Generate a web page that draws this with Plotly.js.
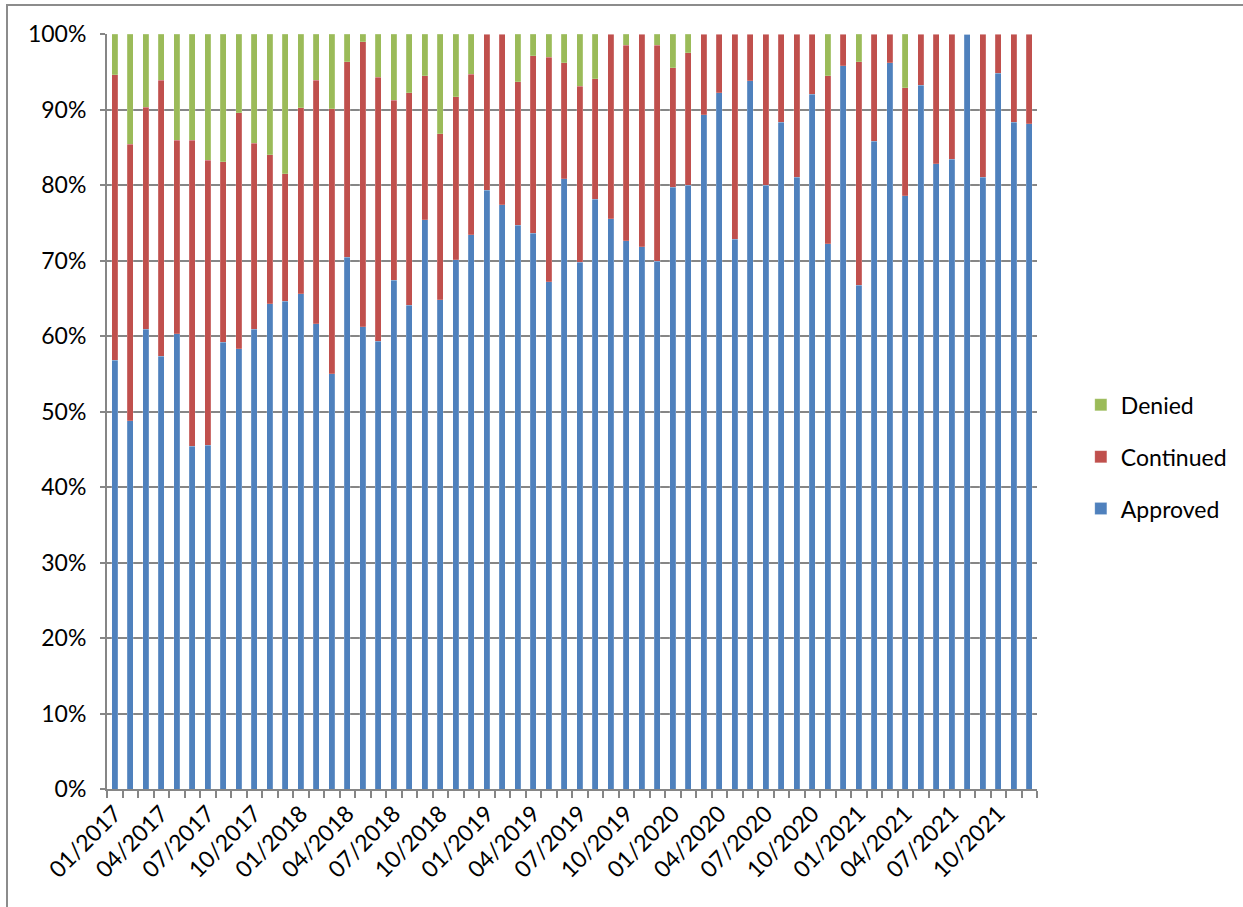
<!DOCTYPE html>
<html>
<head>
<meta charset="utf-8">
<script src="https://cdn.plot.ly/plotly-3.0.1.min.js"></script>
<style>
  html, body { margin: 0; padding: 0; background: #fff; }
  #frame { position: absolute; left: 6px; top: 4px; width: 1300px; height: 1000px;
           border-left: 2px solid #8c8c8c; border-top: 2px solid #8c8c8c; box-sizing: border-box; }
  #chart { position: absolute; left: 0; top: 0; width: 1243px; height: 907px; }
</style>
</head>
<body>
<div id="frame"></div>
<div id="chart"></div>
<script>
const months = [
  "01/2017","02/2017","03/2017","04/2017","05/2017","06/2017","07/2017","08/2017","09/2017","10/2017","11/2017","12/2017",
  "01/2018","02/2018","03/2018","04/2018","05/2018","06/2018","07/2018","08/2018","09/2018","10/2018","11/2018","12/2018",
  "01/2019","02/2019","03/2019","04/2019","05/2019","06/2019","07/2019","08/2019","09/2019","10/2019","11/2019","12/2019",
  "01/2020","02/2020","03/2020","04/2020","05/2020","06/2020","07/2020","08/2020","09/2020","10/2020","11/2020","12/2020",
  "01/2021","02/2021","03/2021","04/2021","05/2021","06/2021","07/2021","08/2021","09/2021","10/2021","11/2021","12/2021"
];

const approved = [
  56.8, 48.8, 60.9, 57.3, 60.3, 45.4, 45.5, 59.2, 58.3, 60.9, 64.3, 64.6,
  65.6, 61.6, 55.0, 70.4, 61.2, 59.3, 67.4, 64.1, 75.4, 64.8, 70.1, 73.4,
  79.3, 77.4, 74.7, 73.6, 67.2, 80.8, 69.8, 78.1, 75.5, 72.6, 71.8, 69.9,
  79.7, 80.0, 89.3, 92.2, 72.8, 93.8, 80.0, 88.3, 81.0, 92.0, 72.2, 95.8,
  66.7, 85.8, 96.2, 78.6, 93.2, 82.8, 83.4, 100.0, 81.0, 94.8, 88.3, 88.1
];

const continued = [
  37.8, 36.6, 29.4, 36.6, 25.6, 40.5, 37.8, 23.9, 31.3, 24.6, 19.7, 16.9,
  24.6, 32.3, 35.1, 25.9, 37.8, 35.0, 23.8, 28.1, 19.1, 22.0, 21.6, 21.3,
  20.7, 22.6, 19.0, 23.5, 29.7, 15.4, 23.3, 16.0, 24.5, 25.9, 28.2, 28.6,
  15.8, 17.5, 10.7, 7.8, 27.2, 6.2, 20.0, 11.7, 19.0, 8.0, 22.3, 4.2,
  29.6, 14.2, 3.8, 14.3, 6.8, 17.2, 16.6, 0.0, 19.0, 5.2, 11.7, 11.9
];

const denied = [
  5.4, 14.6, 9.7, 6.1, 14.1, 14.1, 16.7, 16.9, 10.4, 14.5, 16.0, 18.5,
  9.8, 6.1, 9.9, 3.7, 1.0, 5.7, 8.8, 7.8, 5.5, 13.2, 8.3, 5.3,
  0.0, 0.0, 6.3, 2.9, 3.1, 3.8, 6.9, 5.9, 0.0, 1.5, 0.0, 1.5,
  4.5, 2.5, 0.0, 0.0, 0.0, 0.0, 0.0, 0.0, 0.0, 0.0, 5.5, 0.0,
  3.7, 0.0, 0.0, 7.1, 0.0, 0.0, 0.0, 0.0, 0.0, 0.0, 0.0, 0.0
];

const yTickVals = [0, 10, 20, 30, 40, 50, 60, 70, 80, 90, 100];
const yTickText = ["0%","10%","20%","30%","40%","50%","60%","70%","80%","90%","100%"];
// label every third month
const xTickText = months.map((m, i) => (i % 3 === 0 ? m : ""));

const FONT = "Lato, 'Open Sans', sans-serif";

const traces = [
  { name: "Approved", x: months, y: approved, type: "bar",
    marker: { color: "#4F81BD", line: { color: "rgba(255,255,255,0.35)", width: 0.5 } },
    legendgroup: "a", legendrank: 3, hoverinfo: "x+y+name" },
  { name: "Continued", x: months, y: continued, type: "bar",
    marker: { color: "#C0504D", line: { color: "rgba(255,255,255,0.35)", width: 0.5 } },
    legendgroup: "c", legendrank: 2, hoverinfo: "x+y+name" },
  { name: "Denied", x: months, y: denied, type: "bar",
    marker: { color: "#9BBB59", line: { color: "rgba(255,255,255,0.35)", width: 0.5 } },
    legendgroup: "d", legendrank: 1, hoverinfo: "x+y+name" }
];

const layout = {
  width: 1243, height: 907,
  margin: { l: 107, r: 205, t: 34, b: 118, pad: 0 },
  paper_bgcolor: "rgba(0,0,0,0)",
  plot_bgcolor: "rgba(0,0,0,0)",
  barmode: "stack",
  bargap: 0.59,
  font: { family: FONT, size: 22, color: "#000" },
  showlegend: true,
  legend: {
    x: 1.046, xanchor: "left", y: 0.44, yanchor: "middle",
    traceorder: "grouped", tracegroupgap: 19,
    font: { family: FONT, size: 23, color: "#000" },
    bgcolor: "rgba(0,0,0,0)"
  },
  xaxis: {
    type: "category",
    tickmode: "array", tickvals: months, ticktext: xTickText,
    tickangle: -45,
    tickson: "boundaries",
    ticks: "outside", ticklen: 7, tickcolor: "#868686", tickwidth: 2,
    showline: true, linecolor: "#868686", linewidth: 2,
    showgrid: false,
    tickfont: { family: FONT, size: 23, color: "#000" },
    range: [-0.5, 59.5]
  },
  yaxis: {
    range: [0, 100],
    tickmode: "array", tickvals: yTickVals, ticktext: yTickText,
    ticks: "outside", ticklen: 5, tickcolor: "#868686", tickwidth: 2,
    showline: true, linecolor: "#868686", linewidth: 2,
    showgrid: true, gridcolor: "#868686", gridwidth: 2,
    zeroline: false,
    tickfont: { family: FONT, size: 23, color: "#000" },
    ticklabelstandoff: 9
  }
};

Plotly.newPlot("chart", traces, layout, { displayModeBar: false, staticPlot: true });
</script>
</body>
</html>
